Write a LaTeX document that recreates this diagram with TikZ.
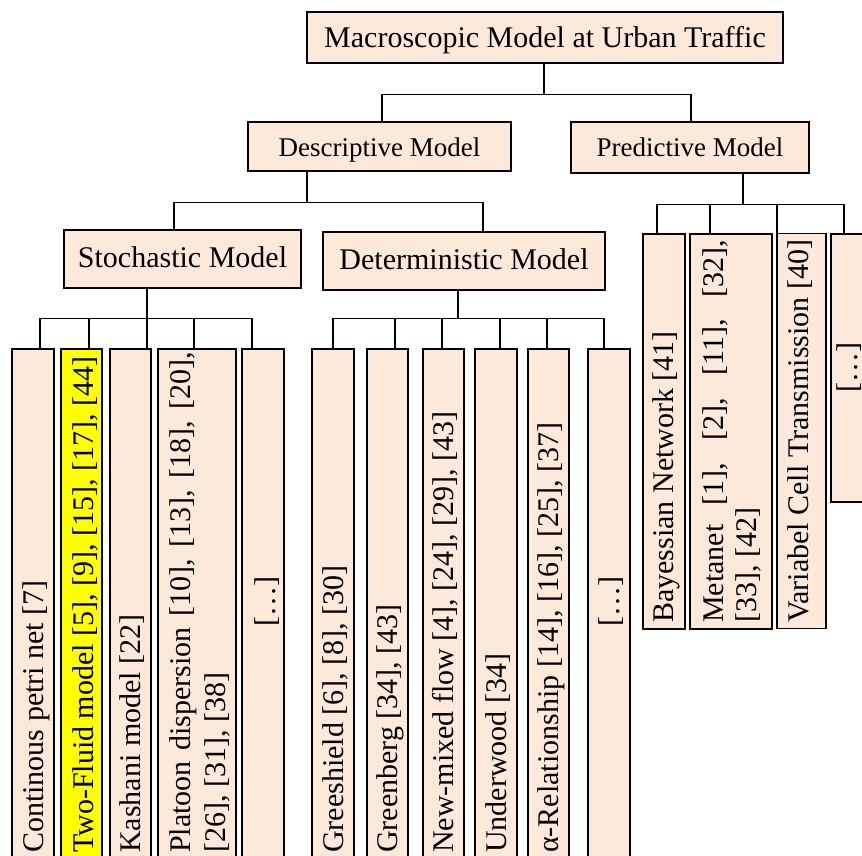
\documentclass[tikz,border=0pt]{standalone}
\usepackage{fontspec}
\setmainfont{Liberation Serif}
\definecolor{peach}{HTML}{FDE9D9}
\definecolor{hilite}{HTML}{FFFF00}
\tikzset{
  modelbox/.style={draw=black, line width=1.3pt, fill=peach, inner sep=0pt,
    text depth=0pt, font=\fontsize{30}{36}\selectfont},
  headbox/.style={modelbox, font=\fontsize{27}{32}\selectfont},
  leafbox/.style={draw=black, line width=1.3pt, fill=peach, inner sep=0pt},
  longleaf/.style={leafbox, minimum height=510pt},
  predleaf/.style={leafbox, minimum height=395pt},
  leaftext/.style={rotate=90, anchor=base west, inner sep=0pt,
    font=\fontsize{30}{35}\selectfont},
  link/.style={draw=black, line width=1.3pt},
}
\begin{document}
\begin{tikzpicture}[x=1pt, y=-1pt]
\useasboundingbox (0,0) rectangle (862,856);
\clip (0,0) rectangle (862,856);

% --- upper levels ---
\node[modelbox, minimum width=476pt, minimum height=51pt, text height=21pt] (top)
  at (545,37.5) {Macroscopic Model at Urban Traffic};
\node[headbox, minimum width=263pt, minimum height=49pt, text height=21pt] (desc)
  at (379.5,146.5) {Descriptive Model};
\node[headbox, minimum width=238pt, minimum height=51pt, text height=19pt] (pred)
  at (690,147.5) {Predictive Model};
\node[modelbox, minimum width=237pt, minimum height=58pt, text height=16pt] (stoch)
  at (182.5,259) {Stochastic Model};
\node[modelbox, minimum width=282pt, minimum height=58pt, text height=16pt] (det)
  at (464,261) {Deterministic Model};

% --- stochastic leaves ---
\node[longleaf, minimum width=42pt] (s1) at (33,604) {};
\node[longleaf, minimum width=41pt, fill=hilite] (s2) at (81.5,604) {};
\node[longleaf, minimum width=41pt] (s3) at (130.5,604) {};
\node[longleaf, minimum width=78pt] (s4) at (197,604) {};
\node[longleaf, minimum width=42pt] (s5) at (263,604) {};

% --- deterministic leaves ---
\node[longleaf, minimum width=42pt] (d1) at (333,604) {};
\node[longleaf, minimum width=41pt] (d2) at (387.5,604) {};
\node[longleaf, minimum width=41pt] (d3) at (443.5,604) {};
\node[longleaf, minimum width=42pt] (d4) at (496,604) {};
\node[longleaf, minimum width=41pt] (d5) at (548.5,604) {};
\node[longleaf, minimum width=42pt] (d6) at (609,604) {};

% --- predictive leaves ---
\node[predleaf, minimum width=42pt] (p1) at (664,431.5) {};
\node[predleaf, minimum width=82pt] (p2) at (731,431.5) {};
\node[predleaf, minimum width=49pt] (p3) at (801.5,431) {};
\node[leafbox, minimum width=49pt, minimum height=268pt] (p4) at (855.5,368) {};

% --- leaf labels (read bottom to top) ---
\node[leaftext] (s1t) at (43,853) {Continous petri net [7]};
\node[leaftext] (s2t) at (93,853) {Two-Fluid model [5], [9], [15], [17], [44]};
\node[leaftext] (s3t) at (140,853) {Kashani model [22]};
\node[leaftext] (s4t) at (190,853) {\parbox[t]{501pt}{\fontsize{30}{35}\selectfont
  \makebox[501pt][s]{Platoon dispersion [10], [13], [18], [20],}\\{}[26], [31], [38]}};
\node[leaftext] (s5t) at (275,627) {[…]};

\node[leaftext] (d1t) at (343,853) {Greeshield [6], [8], [30]};
\node[leaftext] (d2t) at (397,853) {Greenberg [34], [43]};
\node[leaftext] (d3t) at (453,853) {New-mixed flow [4], [24], [29], [43]};
\node[leaftext] (d4t) at (506,853) {Underwood [34]};
\node[leaftext] (d5t) at (558,853) {α-Relationship [14], [16], [25], [37]};
\node[leaftext] (d6t) at (619,627) {[…]};

\node[leaftext] (p1t) at (673,623) {Bayessian Network [41]};
\node[leaftext] (p2t) at (723,623) {\parbox[t]{383pt}{\fontsize{30}{33}\selectfont
  \makebox[383pt][s]{Metanet [1], [2], [11], [32],}\\{}[33], [42]}};
\node[leaftext] (p3t) at (808,623) {Variabel Cell Transmission [40]};
\node[leaftext] (p4t) at (857,393) {[…]};

% --- connectors ---
\draw[link] ([xshift=-1pt]top.south) -- ++(0,31) -| ([xshift=2.5pt]desc.north);
\draw[link] ([xshift=-1pt]top.south) -- ++(0,31) -| ([xshift=1pt]pred.north);

\draw[link] ([xshift=-72.5pt]desc.south) -- ++(0,31) -| ([xshift=-8.5pt]stoch.north);
\draw[link] ([xshift=-72.5pt]desc.south) -- ++(0,31) -| ([xshift=19pt]det.north);

\foreach \leaf/\dx in {s1/7, s2/7.5, s3/16.5, s4/-3, s5/-11}
  \draw[link] ([xshift=-35.5pt]stoch.south) -- ++(0,30) -| ([xshift=\dx pt]\leaf.north);

\foreach \leaf/\dx in {d1/0, d2/7.5, d3/-1.5, d4/4, d5/-1.5, d6/-5}
  \draw[link] ([xshift=-6pt]det.south) -- ++(0,28) -| ([xshift=\dx pt]\leaf.north);

\foreach \leaf/\dx in {p1/-7, p2/-21, p3/-24.5, p4/-11.5}
  \draw[link] ([xshift=53pt]pred.south) -- ++(0,31) -| ([xshift=\dx pt]\leaf.north);
\end{tikzpicture}
\end{document}
